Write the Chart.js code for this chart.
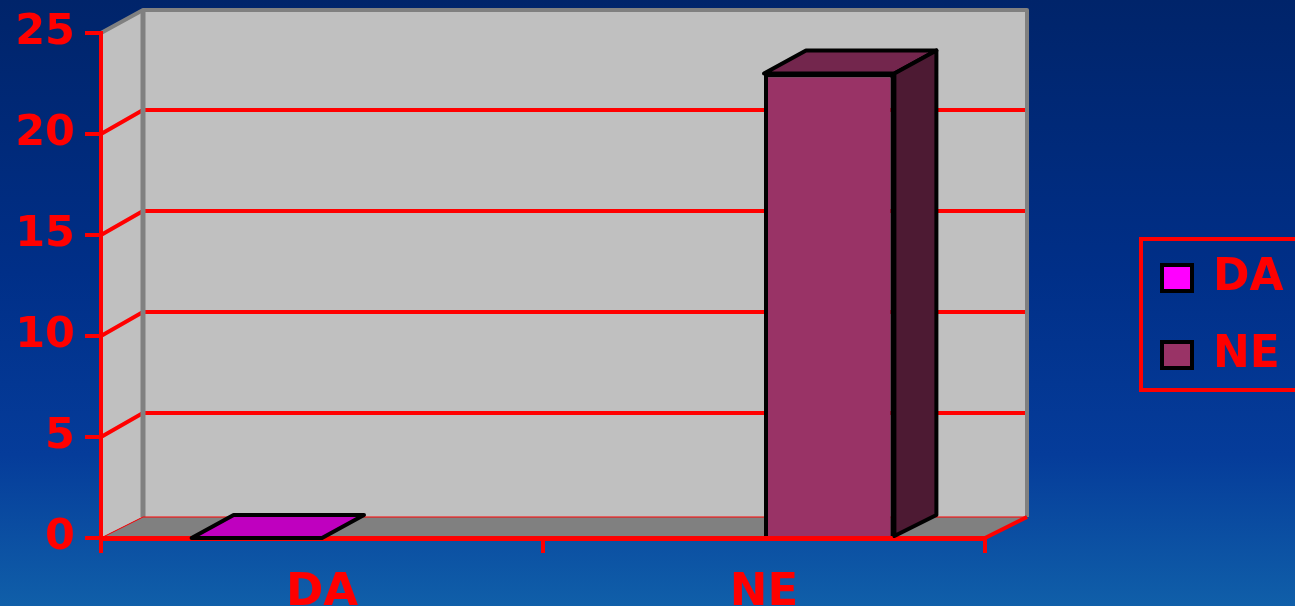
<!DOCTYPE html>
<html>
<head>
<meta charset="utf-8">
<script src="https://cdn.jsdelivr.net/npm/chart.js@4.4.0/dist/chart.umd.min.js"></script>
<style>
    html, body { margin: 0; padding: 0; background: #00266b; overflow: hidden; }
    #wrap { width: 1295px; height: 606px; }
</style>
</head>
<body>
<div id="wrap"><canvas id="grafico_colunas"></canvas></div>
<script>
/* dados do gráfico */
const categorias = ['DA', 'NE'];
const serie_da = [0, null];
const serie_ne = [null, 23];
const ticks_y = [0, 5, 10, 15, 20, 25];

/* cores das faces (frente, topo, lateral) */
const cores_frente = ['#ff00ff', '#993366'];
const cores_topo = ['#bf00bf', '#73264d'];
const cores_lado = ['#800080', '#4d1a33'];

// profundidade do efeito 3D
const DX = 42;
const DY = -23;

function poligono(ctx, pts, fill, stroke, lw) {
    ctx.beginPath();
    ctx.moveTo(pts[0][0], pts[0][1]);
    for (let i = 1; i < pts.length; i++) ctx.lineTo(pts[i][0], pts[i][1]);
    ctx.closePath();
    if (fill) { ctx.fillStyle = fill; ctx.fill(); }
    if (stroke) { ctx.strokeStyle = stroke; ctx.lineWidth = lw; ctx.stroke(); }
}

function linha(ctx, pts, cor, lw) {
    ctx.beginPath();
    ctx.moveTo(pts[0][0], pts[0][1]);
    for (let i = 1; i < pts.length; i++) ctx.lineTo(pts[i][0], pts[i][1]);
    ctx.strokeStyle = cor;
    ctx.lineWidth = lw;
    ctx.stroke();
}

// fundo, paredes e piso do gráfico
const plugin_fundo = {
    id: 'fundo3d',
    beforeDraw(chart) {
        const ctx = chart.ctx;
        const a = chart.chartArea;
        const y = chart.scales.y;
        ctx.save();
        const g = ctx.createLinearGradient(0, 0, 0, chart.height);
        g.addColorStop(0, '#00246a');
        g.addColorStop(0.45, '#002f88');
        g.addColorStop(0.75, '#053c9a');
        g.addColorStop(1, '#105fa9');
        ctx.fillStyle = g;
        ctx.fillRect(0, 0, chart.width, chart.height);

        const y0 = y.getPixelForValue(ticks_y[0]);
        const yTop = y.getPixelForValue(ticks_y[ticks_y.length - 1]);
        const yPiso = y0 - 21;
        ctx.lineJoin = 'round';

        // parede lateral
        poligono(ctx, [[a.left, yTop], [a.left + DX, yTop + DY], [a.left + DX, yPiso], [a.left, y0]], '#c0c0c0');
        // parede do fundo
        poligono(ctx, [[a.left + DX, yTop + DY], [a.right + DX, yTop + DY], [a.right + DX, yPiso], [a.left + DX, yPiso]], '#c0c0c0');
        // piso
        poligono(ctx, [[a.left, y0], [a.left + DX, yPiso], [a.right + DX, yPiso], [a.right, y0]], '#808080');

        // linhas de grade
        ticks_y.forEach(function (v, i) {
            if (i == 0 || i == ticks_y.length - 1) return;
            const py = y.getPixelForValue(v);
            linha(ctx, [[a.left, py], [a.left + DX, py - 24], [a.right + DX, py - 24]], '#ff0000', 4);
        });

        // bordas das paredes
        linha(ctx, [[a.left, yTop], [a.left + DX, yTop + DY], [a.right + DX, yTop + DY], [a.right + DX, yPiso]], '#808080', 4);
        linha(ctx, [[a.left + DX, yTop + DY], [a.left + DX, yPiso]], '#808080', 5);

        // bordas do piso
        linha(ctx, [[a.left, y0], [a.left + DX, yPiso], [a.right + DX, yPiso]], '#ff0000', 1);
        linha(ctx, [[a.right, y0], [a.right + DX, yPiso]], '#ff0000', 4);
        ctx.restore();
    },
    afterDatasetsDraw(chart) {
        const ctx = chart.ctx;
        ctx.save();
        ctx.lineJoin = 'round';
        chart.data.datasets.forEach(function (ds, i) {
            const meta = chart.getDatasetMeta(i);
            meta.data.forEach(function (bar, j) {
                if (ds.data[j] === null) return;
                const p = bar.getProps(['x', 'y', 'base', 'width'], true);
                const l = p.x - p.width / 2;
                const r = p.x + p.width / 2;
                poligono(ctx, [[l, p.y], [l + DX, p.y + DY], [r + DX, p.y + DY], [r, p.y]], cores_topo[i], '#000000', 4);
                if (p.base - p.y > 1) {
                    poligono(ctx, [[r, p.y], [r + DX, p.y + DY], [r + DX, p.base - 21], [r, p.base]], cores_lado[i], '#000000', 4);
                }
            });
        });
        ctx.restore();
    },
    afterDraw(chart) {
        // legenda com moldura vermelha
        const ctx = chart.ctx;
        ctx.save();
        ctx.strokeStyle = '#ff0000';
        ctx.lineWidth = 4;
        ctx.strokeRect(1141, 239, 170, 151);
        ctx.font = 'bold 44px "DejaVu Sans"';
        ctx.textBaseline = 'middle';
        chart.data.datasets.forEach(function (ds, i) {
            const cy = 278 + i * 77;
            ctx.fillStyle = cores_frente[i];
            ctx.fillRect(1162, cy - 13, 30, 26);
            ctx.strokeStyle = '#000000';
            ctx.lineWidth = 4;
            ctx.strokeRect(1162, cy - 13, 30, 26);
            ctx.fillStyle = '#ff0000';
            ctx.fillText(ds.label, 1213, cy + 1);
        });
        ctx.restore();
    }
};

Chart.defaults.font.family = '"DejaVu Sans", sans-serif';
Chart.defaults.font.weight = 'bold';
Chart.defaults.color = '#ff0000';

const data_colunas = {
    labels: categorias,
    datasets: [{
        label: 'DA',
        data: serie_da,
        backgroundColor: cores_frente[0],
        borderColor: '#000000',
        borderWidth: 4
    },
    {
        label: 'NE',
        data: serie_ne,
        backgroundColor: cores_frente[1],
        borderColor: '#000000',
        borderWidth: 4
    }]
};

const config_colunas = {
    type: 'bar',
    data: data_colunas,
    options: {
        responsive: true,
        maintainAspectRatio: false,
        animation: false,
        events: [],
        datasets: {
            bar: { barPercentage: 1, categoryPercentage: 0.59 }
        },
        layout: { padding: { left: 0, right: 310, top: 33, bottom: 0 } },
        plugins: {
            legend: { display: false },
            tooltip: { enabled: false }
        },
        scales: {
            x: {
                z: 1,
                afterFit: function (s) { s.height = 68; s.paddingLeft = 0; s.paddingRight = 0; },
                grid: { drawOnChartArea: false, drawTicks: true, tickLength: 15, color: '#ff0000', lineWidth: 4 },
                border: { color: '#ff0000', width: 5 },
                ticks: { padding: 13, font: { size: 45, weight: 'bold' }, color: '#ff0000' }
            },
            y: {
                z: 1,
                min: 0,
                max: 25,
                afterFit: function (s) { s.width = 101; s.paddingTop = 0; s.paddingBottom = 0; },
                afterBuildTicks: function (s) { s.ticks = ticks_y.map(function (v) { return { value: v }; }); },
                grid: { drawOnChartArea: false, drawTicks: true, tickLength: 16, color: '#ff0000', lineWidth: 4 },
                border: { color: '#ff0000', width: 4 },
                ticks: { padding: 10, font: { size: 43, weight: 'bold' }, color: '#ff0000' }
            }
        }
    },
    plugins: [plugin_fundo]
};

const grafico_colunas = new Chart(
    document.getElementById('grafico_colunas'),
    config_colunas
);
</script>
</body>
</html>
